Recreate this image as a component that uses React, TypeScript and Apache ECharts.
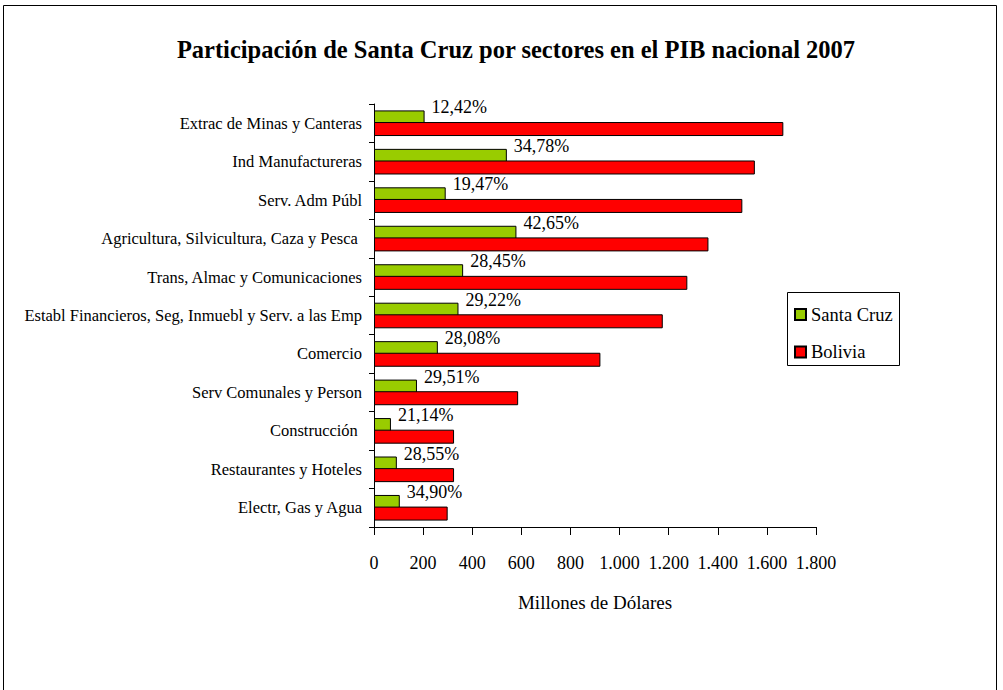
import React, { useEffect, useRef } from "react";
import * as echarts from "echarts";

const titleText = "Participación de Santa Cruz por sectores en el PIB nacional 2007";
const axisName = "Millones de Dólares";

const categories = [
  "Extrac de Minas y Canteras",
  "Ind Manufactureras",
  "Serv. Adm Públ",
  "Agricultura, Silvicultura, Caza y Pesca ",
  "Trans, Almac y Comunicaciones",
  "Establ Financieros, Seg, Inmuebl y Serv. a las Emp",
  "Comercio",
  "Serv Comunales y Person",
  "Construcción ",
  "Restaurantes y Hoteles",
  "Electr, Gas y Agua",
];

const santaCruz = [206, 541, 292, 580, 363, 344, 260, 175, 69, 93, 105];
const bolivia = [1667, 1551, 1500, 1362, 1276, 1176, 922, 587, 326, 326, 300];
const shares = ["12,42%", "34,78%", "19,47%", "42,65%", "28,45%", "29,22%", "28,08%", "29,51%", "21,14%", "28,55%", "34,90%"];

const xMin = 0;
const xMax = 1800;
const xStep = 200;

const FONT = "'Liberation Serif', 'Times New Roman', serif";

function fmt(v: number): string {
  return String(v).replace(/\B(?=(\d{3})+(?!\d))/g, ".");
}

export default function App() {
  const ref = useRef<HTMLDivElement>(null);
  useEffect(() => {
    if (!ref.current) return;
    const chart = echarts.init(ref.current, null, { renderer: "svg" });
    chart.setOption({
      animation: false,
      backgroundColor: "#ffffff",
      textStyle: { fontFamily: FONT, color: "#000" },
      title: {
        text: titleText,
        left: 511,
        textAlign: "center",
        top: 32,
        textStyle: { fontFamily: FONT, fontWeight: "bold", fontSize: 24.5, color: "#000" },
      },
      graphic: [
        {
          type: "rect",
          shape: { x: 3.5, y: 5.5, width: 993, height: 700 },
          style: { fill: "none", stroke: "#000", lineWidth: 1 },
          silent: true,
          z: -1,
        },
        {
          type: "rect",
          shape: { x: 787.5, y: 292.5, width: 112, height: 73 },
          style: { fill: "#fff", stroke: "#000", lineWidth: 1 },
          silent: true,
          z: 0,
        },
      ],
      legend: {
        orient: "vertical",
        left: 787,
        top: 292,
        padding: [13, 6, 7, 7],
        itemGap: 18.5,
        itemWidth: 11,
        itemHeight: 11,
        itemTextGap: 5,
        icon: "rect",
        z: 5,
        textStyle: { fontFamily: FONT, fontSize: 18.5, color: "#000", lineHeight: 18 },
        data: ["Santa Cruz", "Bolivia"],
      },
      grid: { left: 374, top: 104, right: 187, bottom: 163, containLabel: false },
      xAxis: {
        type: "value",
        min: xMin,
        max: xMax,
        interval: xStep,
        name: axisName,
        nameLocation: "middle",
        nameGap: 66,
        nameTextStyle: { fontFamily: FONT, fontSize: 19, color: "#000" },
        axisLine: { show: true, lineStyle: { color: "#000", width: 1 } },
        axisTick: { show: true, inside: false, length: 8, lineStyle: { color: "#000" } },
        axisLabel: { margin: 27, fontFamily: FONT, fontSize: 18, color: "#000", formatter: (v: number) => fmt(v) },
        splitLine: { show: false },
      },
      yAxis: {
        type: "category",
        inverse: true,
        data: categories,
        axisLine: { show: true, lineStyle: { color: "#000", width: 1 } },
        axisTick: { show: true, inside: false, length: 5, alignWithLabel: false, lineStyle: { color: "#000" } },
        axisLabel: { margin: 12, fontFamily: FONT, fontSize: 16.5, color: "#000", padding: [6, 0, 0, 0] },
        splitLine: { show: false },
      },
      series: [
        {
          name: "Santa Cruz",
          type: "bar",
          data: santaCruz,
          barWidth: 14,
          barGap: "-17%",
          itemStyle: { color: "#99CC00", borderColor: "#000", borderWidth: 1 },
          label: {
            show: true,
            position: "right",
            distance: 7,
            offset: [0, -10],
            fontFamily: FONT,
            fontSize: 18,
            color: "#000",
            formatter: (p: any) => shares[p.dataIndex],
          },
          z: 2,
        },
        {
          name: "Bolivia",
          type: "bar",
          data: bolivia,
          barWidth: 14,
          itemStyle: { color: "#FF0000", borderColor: "#000", borderWidth: 1 },
          z: 3,
        },
      ],
    });
    return () => chart.dispose();
  }, []);
  return (
    <div
      ref={ref}
      style={{ position: "fixed", left: 0, top: 0, width: 1003, height: 690 }}
    />
  );
}
